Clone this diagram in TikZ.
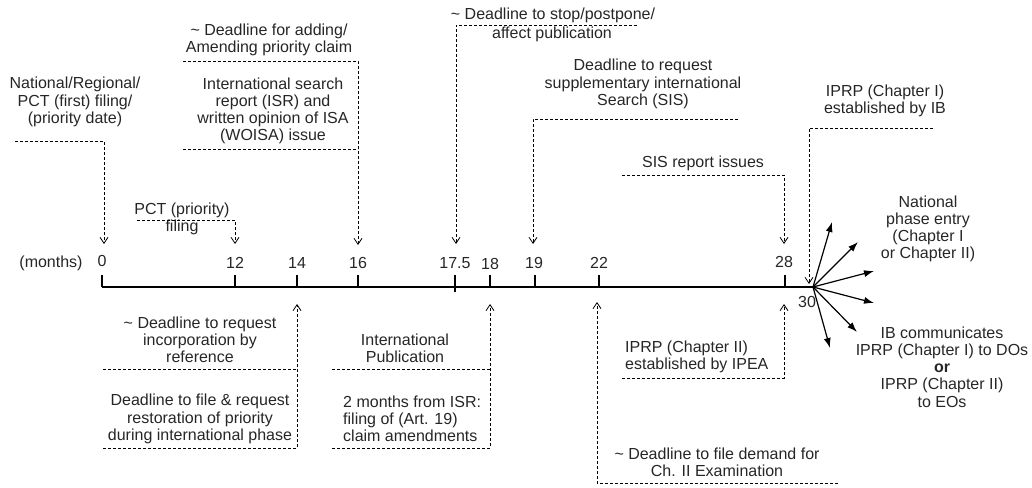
\documentclass[tikz,border=0pt]{standalone}
\usepackage{fontspec}
\setmainfont{Liberation Sans}
\usetikzlibrary{arrows.meta}
\definecolor{txt}{HTML}{262626}
\begin{document}
\begin{tikzpicture}[x=1pt,y=-1pt,
  lbl/.style={inner sep=0pt, align=center, text=txt, font=\fontsize{16}{17.2}\selectfont},
  lbll/.style={lbl, align=left},
  conn/.style={densely dashed, line width=0.8pt, dash pattern=on 3pt off 2pt},
  conntip/.style={conn, -{Straight Barb[length=6pt,width=8pt,line width=0.8pt]}},
  axisline/.style={line width=1.5pt},
  tickmark/.style={line width=1.4pt},
  fan/.style={line width=1.2pt, -{Latex[length=10pt,width=7pt]}}]
\useasboundingbox (0,0) rectangle (1032,487);

% axis
\coordinate (a0) at (102,287);
\coordinate (hub) at (813,287);
\draw[axisline] (a0) -- (hub);
\foreach \x/\n in {102/0,235/12,297/14,358/16,490/18,535/19,599/22,785/28}{
  \draw[tickmark] (\x,287) -- (\x,275);
}
\draw[tickmark] (455,292) -- (455,275);

% tick labels
\node[lbl] (months) at (51,263) {(months)};
\node[lbl] (l0) at (102,261) {0};
\node[lbl] (l12) at (235,263) {12};
\node[lbl] (l14) at (297,263) {14};
\node[lbl] (l16) at (358,263) {16};
\node[lbl] (l175) at (455,263) {17.5};
\node[lbl] (l18) at (490,264) {18};
\node[lbl] (l19) at (534,263) {19};
\node[lbl] (l22) at (599,263) {22};
\node[lbl] (l28) at (784,262) {28};
\node[lbl] (l30) at (807,302) {30};

% top texts
\node[lbl] (natl) at (75,102) {National/Regional/\\PCT (first) filing/\\(priority date)};
\node[lbl] (pctf) at (182,219) {PCT (priority)\\filing};
\node[lbl] (addp) at (269,40) {\textasciitilde{} Deadline for adding/\\Amending priority claim};
\node[lbl] (isr) at (273,111) {International search\\report (ISR) and\\written opinion of ISA\\(WOISA) issue};
\node[lbl] (stopA) at (553,15) {\textasciitilde{} Deadline to stop/postpone/};
\node[lbl] (stopB) at (552,34) {affect publication};
\node[lbl] (sis) at (643,84) {Deadline to request\\supplementary international\\Search (SIS)};
\node[lbl] (sisr) at (703,163) {SIS report issues};
\node[lbl] (iprp1) at (885,101) {IPRP (Chapter I)\\established by IB};
\node[lbl] (npe) at (928,229) {National\\phase entry\\(Chapter I\\or Chapter II)};
\node[lbl] (ibc) at (942,367) {IB communicates\\IPRP (Chapter I) to DOs\\\textbf{or}\\IPRP (Chapter II)\\to EOs};

% bottom texts
\node[lbl] (incorp) at (200,340) {\textasciitilde{} Deadline to request\\incorporation by\\reference};
\node[lbl] (restor) at (200,419) {Deadline to file \& request\\restoration of priority\\during international phase};
\node[lbl] (intpub) at (405,348) {International\\Publication};
\node[lbll, anchor=west] (amend) at (343,419) {2 months from ISR:\\filing of (Art. 19)\\claim amendments};
\node[lbll, anchor=west] (iprp2) at (625,357) {IPRP (Chapter II)\\established by IPEA};
\node[lbl] (demand) at (717,462) {\textasciitilde{} Deadline to file demand for\\Ch. II Examination};

% top connectors
\coordinate (n0s) at (15,141);   \coordinate (n0e) at (104,244);
\draw[conntip] (n0s) -| (n0e);
\coordinate (p12s) at (137,220); \coordinate (p12e) at (235,244);
\draw[conntip] (p12s) -| (p12e);
\coordinate (a16s) at (183,61);  \coordinate (a16e) at (358,245);
\draw[conntip] (a16s) -| (a16e);
\coordinate (i16s) at (183,149); \coordinate (i16e) at (358,149);
\draw[conn] (i16s) -- (i16e);
\coordinate (s175s) at (637,25); \coordinate (s175e) at (456,244);
\draw[conntip] (s175s) -| (s175e);
\coordinate (s19s) at (738,119); \coordinate (s19e) at (533,244);
\draw[conntip] (s19s) -| (s19e);
\coordinate (r28s) at (622,175); \coordinate (r28e) at (784,244);
\draw[conntip] (r28s) -| (r28e);
\coordinate (b30s) at (933,128); \coordinate (b30e) at (809,284);
\draw[conntip] (b30s) -| (b30e);

% bottom connectors
\coordinate (d14s) at (103,448); \coordinate (d14e) at (297,304);
\draw[conntip] (d14s) -| (d14e);
\coordinate (i14s) at (103,369); \coordinate (i14e) at (297,369);
\draw[conn] (i14s) -- (i14e);
\coordinate (d18s) at (332,448); \coordinate (d18e) at (490,304);
\draw[conntip] (d18s) -| (d18e);
\coordinate (i18s) at (332,369); \coordinate (i18e) at (490,369);
\draw[conn] (i18s) -- (i18e);
\coordinate (d22s) at (838,483); \coordinate (d22e) at (597,302);
\draw[conntip] (d22s) -| (d22e);
\coordinate (d28s) at (622,378); \coordinate (d28e) at (784,304);
\draw[conntip] (d28s) -| (d28e);

% fan arrows
\coordinate (f1) at (832,222);
\coordinate (f2) at (858,242);
\coordinate (f3) at (874,271);
\coordinate (f4) at (874,303);
\coordinate (f5) at (857,332);
\coordinate (f6) at (830,348);
\foreach \f in {f1,f2,f3,f4,f5,f6}{\draw[fan] (hub) -- (\f);}
\end{tikzpicture}
\end{document}
